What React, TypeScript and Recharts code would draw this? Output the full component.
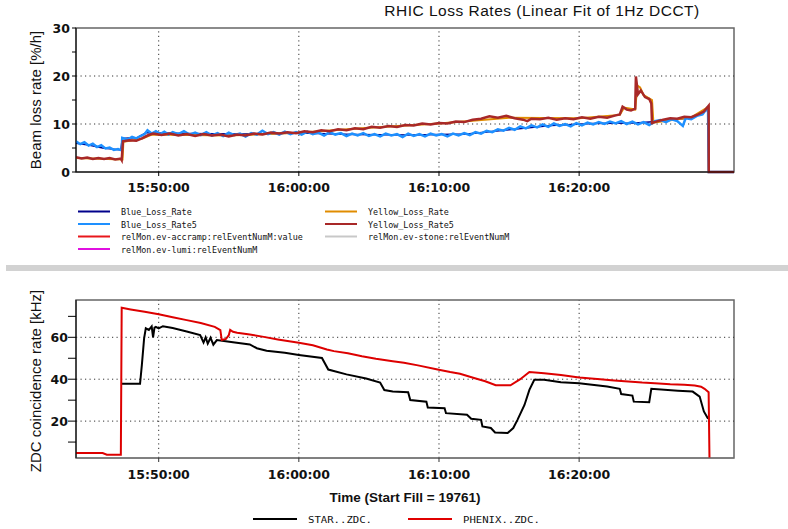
import { Line, LineChart, ReferenceArea, ReferenceLine, XAxis, YAxis } from 'recharts'

// time axis: minutes after 15:00
const timeDomain: [number, number] = [44.1, 91.05]
const timeTicks = [50, 60, 70, 80]
const timeTickLabels = ['15:50:00', '16:00:00', '16:10:00', '16:20:00']

const lossDomain: [number, number] = [0, 30]
const lossTicks = [0, 5, 10, 15, 20, 25, 30]
const lossLabelled = [0, 10, 20, 30]
const lossGrid = [10, 20]

const zdcDomain: [number, number] = [2.4, 77.8]
const zdcTicks = [10, 20, 30, 40, 50, 60, 70]
const zdcLabelled = [20, 40, 60]

type Pair = [number, number]

const blueLossRate: Pair[] = [
  [44.1, 6.0], [45, 5.6], [46, 5.0], [47.3, 4.6], [47.4, 7.0], [48.5, 7.2], [49.1, 8.2],
  [52, 8.0], [56, 7.9], [60, 8.1], [64, 7.8], [68, 7.7], [72, 7.9], [75, 8.8], [78, 9.7],
  [81, 10.1], [84, 10.2], [86, 10.6], [88, 11.3], [89.2, 13.0], [89.25, 0], [91.05, 0],
]

const blueLossRate5: Pair[] = [
  [44.1, 6.4], [44.4, 5.8], [44.7, 6.2], [45.0, 5.5], [45.3, 5.9], [45.6, 5.2], [45.9, 5.6],
  [46.2, 4.9], [46.5, 5.1], [46.8, 4.6], [47.1, 4.8], [47.36, 4.5], [47.4, 7.1], [47.8, 6.8],
  [48.1, 7.3], [48.4, 7.0], [48.7, 7.5], [49.0, 7.9], [49.2, 8.7], [49.5, 8.0], [49.8, 8.5],
  [50.1, 7.9], [50.4, 8.4], [50.7, 7.8], [51.0, 8.3], [51.4, 7.9], [51.8, 8.5], [52.2, 7.8],
  [52.6, 8.2], [53.0, 7.7], [53.4, 8.3], [53.8, 7.6], [54.2, 8.1], [54.6, 7.5], [55.0, 8.2],
  [55.4, 7.7], [55.8, 8.0], [56.2, 7.4], [56.6, 8.1], [57.0, 7.8], [57.4, 8.6], [57.8, 7.9],
  [58.2, 8.3], [58.6, 7.8], [59.0, 8.4], [59.4, 7.9], [59.8, 8.3], [60.2, 7.8], [60.6, 8.4],
  [61.0, 7.9], [61.4, 8.2], [61.8, 7.6], [62.2, 8.3], [62.6, 7.8], [63.0, 8.1], [63.4, 7.5],
  [63.8, 8.0], [64.2, 7.6], [64.6, 8.1], [65.0, 7.5], [65.4, 7.9], [65.8, 7.4], [66.2, 8.0],
  [66.6, 7.6], [67.0, 7.9], [67.4, 7.3], [67.8, 8.0], [68.2, 7.5], [68.6, 7.9], [69.0, 7.4],
  [69.4, 8.0], [69.8, 7.6], [70.2, 7.9], [70.6, 7.4], [71.0, 8.0], [71.4, 7.6], [71.8, 8.1],
  [72.2, 7.7], [72.6, 8.3], [73.0, 8.0], [73.4, 8.6], [73.8, 8.3], [74.2, 8.9], [74.6, 8.6],
  [75.0, 9.2], [75.4, 8.8], [75.8, 9.5], [76.2, 9.1], [76.6, 9.7], [77.0, 9.3], [77.4, 9.9],
  [77.8, 9.4], [78.2, 10.1], [78.6, 9.6], [79.0, 10.0], [79.4, 9.5], [79.8, 10.2], [80.2, 9.7],
  [80.6, 10.3], [81.0, 9.9], [81.4, 10.4], [81.8, 10.0], [82.2, 10.5], [82.6, 10.1], [83.0, 10.6],
  [83.4, 10.0], [83.8, 10.5], [84.2, 9.9], [84.6, 10.4], [85.0, 9.8], [85.4, 10.6], [85.8, 10.8],
  [86.2, 10.4], [86.6, 11.0], [87.0, 10.6], [87.4, 9.6], [87.6, 11.2], [88.0, 11.0], [88.4, 11.7],
  [88.8, 12.0], [89.1, 13.2], [89.2, 12.6], [89.25, 0], [91.05, 0],
]

const yellowLossRate: Pair[] = [
  [44.1, 2.9], [47.42, 2.6], [47.48, 6.3], [48.8, 6.9], [49.5, 7.8], [55, 7.6], [60, 8.2],
  [65, 9.2], [70, 10.1], [75, 11.3], [80, 11.2], [82.9, 11.9], [83.2, 13.4], [84.0, 13.0],
  [84.15, 18.0], [84.35, 17.6], [84.6, 16.0], [85.2, 15.0], [85.3, 10.3], [88, 11.4],
  [89.24, 13.6], [89.25, 0], [91.05, 0],
]

const yellowLossRate5: Pair[] = [
  [44.1, 3.1], [44.5, 2.8], [44.9, 3.0], [45.3, 2.7], [45.7, 2.9], [46.1, 2.7], [46.5, 2.9],
  [46.9, 2.6], [47.3, 2.8], [47.36, 2.5], [47.45, 6.4], [47.9, 6.6], [48.4, 6.5], [48.8, 7.0],
  [49.2, 7.6], [49.6, 8.0], [50.2, 7.7], [50.8, 8.0], [51.4, 7.6], [52.0, 7.9], [52.6, 7.5],
  [53.2, 7.9], [53.8, 7.6], [54.4, 7.8], [55.0, 7.4], [55.6, 7.8], [56.2, 7.6], [56.8, 8.0],
  [57.4, 7.8], [58.0, 8.2], [58.6, 8.0], [59.2, 8.3], [59.8, 8.1], [60.4, 8.5], [61.0, 8.3],
  [61.6, 8.7], [62.2, 8.5], [62.8, 8.9], [63.4, 8.7], [64.0, 9.1], [64.6, 8.9], [65.2, 9.4],
  [65.8, 9.2], [66.4, 9.6], [67.0, 9.4], [67.6, 9.8], [68.2, 9.7], [68.8, 10.1], [69.4, 9.9],
  [70.0, 10.2], [70.6, 10.1], [71.2, 10.5], [71.8, 10.4], [72.4, 10.9], [73.0, 11.1], [73.6, 11.6],
  [74.2, 11.3], [74.8, 11.7], [75.4, 11.2], [76.0, 10.9], [76.3, 10.6], [76.6, 11.1], [77.2, 11.0],
  [77.8, 11.3], [78.4, 10.9], [79.0, 11.2], [79.6, 11.0], [80.2, 11.4], [80.8, 11.1], [81.4, 11.5],
  [82.0, 11.3], [82.6, 11.8], [82.9, 12.0], [83.1, 13.6], [83.4, 13.0], [83.7, 12.8], [84.0, 13.2],
  [84.05, 19.9], [84.2, 16.2], [84.4, 17.0], [84.7, 15.6], [85.0, 15.2], [85.15, 14.3], [85.2, 10.2],
  [85.6, 10.6], [86.0, 10.9], [86.5, 11.2], [87.0, 11.1], [87.5, 11.5], [88.0, 11.4], [88.5, 12.0],
  [88.9, 12.6], [89.24, 13.8], [89.25, 0], [91.05, 0],
]

const starZdc: Pair[] = [
  [47.36, 37.8], [48.67, 37.8], [48.8, 46.8], [48.96, 59.5], [49.08, 64.3], [49.3, 63.5],
  [49.5, 65.2], [49.6, 60.0], [49.7, 64.6], [49.8, 65.0], [50.0, 64.3], [50.3, 65.3], [51, 64.4],
  [52, 62.8], [52.96, 61.1], [53.2, 57.5], [53.35, 60.0], [53.5, 57.0], [53.7, 59.8], [53.9, 56.5],
  [54.15, 58.7], [55.3, 57.6], [56.5, 56.6], [57.0, 54.8], [57.7, 53.6], [59, 52.6], [60.0, 51.6],
  [61.65, 50.1], [62.1, 44.6], [63.4, 42.3], [64.8, 40.3], [65.8, 38.4], [66.1, 34.8], [66.7, 34.1],
  [67.8, 33.8], [67.95, 30.1], [69.1, 29.3], [69.2, 26.5], [70.4, 26.2], [70.5, 23.8], [72.0, 23.0],
  [72.3, 21.1], [73.0, 20.6], [73.1, 17.5], [73.7, 16.7], [74.0, 14.6], [74.9, 14.3], [75.3, 16.7],
  [75.6, 20.6], [76.1, 27.7], [76.45, 34.9], [76.8, 39.7], [77.5, 39.7], [78.7, 38.6], [80.0, 38.1],
  [82.0, 36.5], [82.9, 35.4], [83.0, 32.9], [83.8, 32.2], [83.9, 29.3], [85.0, 29.0], [85.15, 35.4],
  [87.05, 34.5], [88.1, 34.1], [88.6, 31.7], [88.9, 24.6], [89.2, 21.1],
]

const phenixZdc: Pair[] = [
  [44.1, 4.8], [46.0, 4.8], [46.3, 4.0], [47.3, 4.0], [47.36, 74.1], [48, 73.3], [49, 72.2],
  [50, 71.0], [51, 69.6], [52, 68.2], [53, 66.8], [54, 65.0], [54.4, 63.4], [54.5, 58.7],
  [54.8, 59.2], [55.0, 61.0], [55.1, 63.5], [55.3, 62.6], [55.6, 62.2], [56.5, 61.3], [57.5, 60.2],
  [58.5, 59.0], [60, 57.4], [61, 56.2], [62, 54.2], [62.5, 53.4], [63.5, 52.4], [64.5, 51.0],
  [65.5, 49.8], [66.7, 48.6], [67.5, 47.9], [68.5, 46.6], [69.9, 44.6], [70.8, 43.4], [71.5, 42.6],
  [72.5, 40.6], [73.3, 39.0], [74.05, 37.1], [75.1, 37.1], [75.8, 40.0], [76.45, 43.4], [77.5, 42.9],
  [78.7, 42.0], [80.0, 40.8], [81.5, 40.0], [82.5, 39.4], [83.5, 38.9], [84.5, 38.4], [85.4, 38.1],
  [86.5, 37.6], [87.5, 37.3], [88.25, 37.0], [88.7, 36.4], [88.95, 35.4], [89.24, 33.8], [89.3, 2.4],
]

const lossLegendLeft = [
  { name: 'Blue_Loss_Rate', color: '#00008b' },
  { name: 'Blue_Loss_Rate5', color: '#1e90ff' },
  { name: 'relMon.ev-accramp:relEventNumM:value', color: '#e8171b' },
  { name: 'relMon.ev-lumi:relEventNumM', color: '#e010e0' },
]
const lossLegendRight = [
  { name: 'Yellow_Loss_Rate', color: '#e08c00' },
  { name: 'Yellow_Loss_Rate5', color: '#a82828' },
  { name: 'relMon.ev-stone:relEventNumM', color: '#c8c8c8' },
]
const zdcLegend = [
  { name: 'STAR..ZDC.', color: '#000000' },
  { name: 'PHENIX..ZDC.', color: '#e00000' },
]

const toPoints = (s: Pair[]) => s.map(([t, v]) => ({ t, v }))

const SANS = '"Liberation Sans", Arial, sans-serif'
const TICK_FONT = '"DejaVu Sans", sans-serif'
const MONO = '"DejaVu Sans Mono", monospace'

function YTick(props: any) {
  const { x, y, payload, labelled } = props
  if (!labelled.includes(payload.value)) return <g />
  return (
    <text x={x} y={y} dy={4.5} textAnchor="end" fontFamily={TICK_FONT} fontWeight="bold" fontSize={12.5} fill="#111">
      {payload.value}
    </text>
  )
}

const xTickStyle = { fontFamily: TICK_FONT, fontWeight: 'bold', fontSize: 12.5, fill: '#111' }
const fmtTime = (_v: number, i: number) => timeTickLabels[i]

function LegendRow({ x, y, name, color, charW, lineW }: any) {
  return (
    <g>
      <line x1={x} x2={x + lineW} y1={y} y2={y} stroke={color} strokeWidth={2} />
      <text
        x={x + lineW + 11}
        y={y + 3.5}
        fontFamily={MONO}
        fontSize={9.5}
        fill="#111"
        textLength={name.length * charW}
        lengthAdjust="spacingAndGlyphs"
      >
        {name}
      </text>
    </g>
  )
}

export default function App() {
  return (
    <div style={{ position: 'absolute', left: 0, top: 0, width: 788, height: 529, background: '#fff', overflow: 'hidden' }}>
      {/* beam loss rates */}
      <div style={{ position: 'absolute', left: 0, top: 0 }}>
        <LineChart width={788} height={265} margin={{ top: 28, right: 54, bottom: 71, left: 0 }}>
          <XAxis
            dataKey="t"
            type="number"
            domain={timeDomain}
            allowDataOverflow
            ticks={timeTicks}
            interval={0}
            tickFormatter={fmtTime}
            tick={xTickStyle}
            tickSize={4}
            tickMargin={7}
            height={22}
            axisLine={{ stroke: '#000' }}
            tickLine={{ stroke: '#000' }}
          />
          <YAxis
            type="number"
            domain={lossDomain}
            ticks={lossTicks}
            interval={0}
            width={76}
            tickSize={4}
            tickMargin={2}
            tick={(p: any) => <YTick {...p} labelled={lossLabelled} />}
            axisLine={{ stroke: '#000' }}
            tickLine={{ stroke: '#000' }}
          />
          <ReferenceArea x1={timeDomain[0]} x2={timeDomain[1]} y1={lossDomain[0]} y2={lossDomain[1]} fill="none" stroke="#666" strokeWidth={1.5} />
          {lossGrid.map((v) => (
            <ReferenceLine key={v} y={v} stroke="#333" strokeDasharray="1.2 3.3" />
          ))}
          {timeTicks.map((v) => (
            <ReferenceLine key={v} x={v} stroke="#333" strokeDasharray="1.2 3.3" />
          ))}
          <Line data={toPoints(blueLossRate)} dataKey="v" type="linear" stroke="#00008b" strokeWidth={1.5} dot={false} isAnimationActive={false} />
          <Line data={toPoints(yellowLossRate)} dataKey="v" type="linear" stroke="#e08c00" strokeWidth={2} dot={false} isAnimationActive={false} />
          <Line data={toPoints(blueLossRate5)} dataKey="v" type="linear" stroke="#1e90ff" strokeWidth={2.5} dot={false} isAnimationActive={false} />
          <Line data={toPoints(yellowLossRate5)} dataKey="v" type="linear" stroke="#a82828" strokeWidth={2.5} dot={false} isAnimationActive={false} />
        </LineChart>
      </div>

      {/* ZDC coincidence rates */}
      <div style={{ position: 'absolute', left: 0, top: 272 }}>
        <LineChart width={788} height={257} margin={{ top: 28, right: 54, bottom: 49, left: 0 }}>
          <XAxis
            dataKey="t"
            type="number"
            domain={timeDomain}
            allowDataOverflow
            ticks={timeTicks}
            interval={0}
            tickFormatter={fmtTime}
            tick={xTickStyle}
            tickSize={4}
            tickMargin={8}
            height={22}
            axisLine={{ stroke: '#777' }}
            tickLine={{ stroke: '#333' }}
          />
          <YAxis
            type="number"
            domain={zdcDomain}
            allowDataOverflow
            ticks={zdcTicks}
            interval={0}
            width={76}
            tickSize={8}
            tickMargin={0}
            tick={(p: any) => <YTick {...p} labelled={zdcLabelled} />}
            axisLine={{ stroke: '#000' }}
            tickLine={{ stroke: '#000' }}
          />
          <ReferenceArea x1={timeDomain[0]} x2={timeDomain[1]} y1={zdcDomain[0]} y2={zdcDomain[1]} fill="none" stroke="#666" strokeWidth={1.5} />
          {zdcLabelled.map((v) => (
            <ReferenceLine key={v} y={v} stroke="#333" strokeDasharray="1.2 3.3" />
          ))}
          {timeTicks.map((v) => (
            <ReferenceLine key={v} x={v} stroke="#333" strokeDasharray="1.2 3.3" />
          ))}
          <Line data={toPoints(starZdc)} dataKey="v" type="linear" stroke="#000" strokeWidth={2} dot={false} isAnimationActive={false} />
          <Line data={toPoints(phenixZdc)} dataKey="v" type="linear" stroke="#dd0000" strokeWidth={2} dot={false} isAnimationActive={false} />
        </LineChart>
      </div>

      {/* separator between the two panels */}
      <div style={{ position: 'absolute', left: 6, top: 265, width: 782, height: 6, background: '#d2d2d2' }} />

      <div
        style={{
          position: 'absolute', left: 342, top: 2, width: 400, textAlign: 'center',
          fontFamily: SANS, fontSize: 15.5, letterSpacing: 0.5, color: '#111', whiteSpace: 'nowrap',
        }}
      >
        RHIC Loss Rates (Linear Fit of 1Hz DCCT)
      </div>

      <svg width={788} height={529} style={{ position: 'absolute', left: 0, top: 0, pointerEvents: 'none' }}>
        <text x={41} y={100} transform="rotate(-90 41 100)" textAnchor="middle" fontFamily={SANS} fontSize={15} fill="#111">
          Beam loss rate [%/h]
        </text>
        <text x={41} y={381} transform="rotate(-90 41 381)" textAnchor="middle" fontFamily={SANS} fontSize={15} fill="#111">
          ZDC coincidence rate [kHz]
        </text>
        <text x={405} y={502} textAnchor="middle" fontFamily={SANS} fontWeight="bold" fontSize={13.5} fill="#111">
          Time (Start Fill = 19761)
        </text>

        {lossLegendLeft.map((it, i) => (
          <LegendRow key={it.name} x={78} y={211.5 + i * 12.5} name={it.name} color={it.color} charW={5.05} lineW={32} />
        ))}
        {lossLegendRight.map((it, i) => (
          <LegendRow key={it.name} x={325} y={211.5 + i * 12.5} name={it.name} color={it.color} charW={5.05} lineW={32} />
        ))}
        {zdcLegend.map((it, i) => (
          <LegendRow key={it.name} x={253 + i * 155} y={519} name={it.name} color={it.color} charW={6.4} lineW={44} />
        ))}
      </svg>
    </div>
  )
}
